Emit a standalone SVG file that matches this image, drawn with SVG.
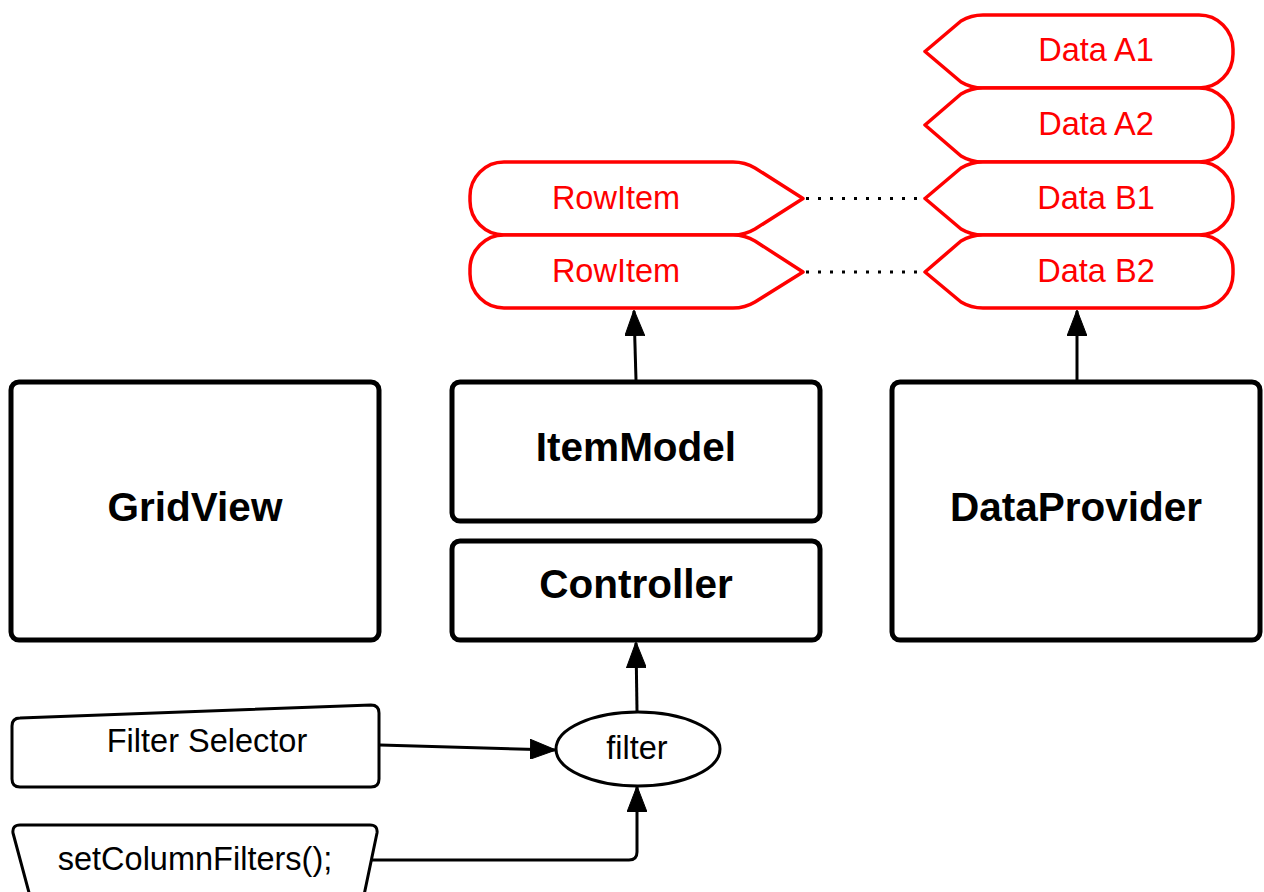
<svg xmlns="http://www.w3.org/2000/svg" width="1264" height="892" viewBox="0 0 1264 892">
<style>
.box{fill:#fff;stroke:#000;stroke-width:5}
.red{fill:#fff;stroke:#ff0000;stroke-width:3.5;stroke-linejoin:round}
.thin{fill:#fff;stroke:#000;stroke-width:3;stroke-linejoin:round}
.bt{font-family:"Liberation Sans",Arial,sans-serif;font-weight:bold;font-size:40.5px;fill:#000;text-anchor:middle}
.rt{font-family:"Liberation Sans",Arial,sans-serif;font-size:32.5px;fill:#ff0000;text-anchor:middle}
.nt{font-family:"Liberation Sans",Arial,sans-serif;font-size:32.5px;fill:#000;text-anchor:middle}
.conn{fill:none;stroke:#000;stroke-width:3}
.dot{fill:none;stroke:#000;stroke-width:3;stroke-dasharray:3 9}
</style>
<defs>
<marker id="arr" viewBox="0 0 26 20" refX="25" refY="10" markerWidth="26" markerHeight="20" markerUnits="userSpaceOnUse" orient="auto">
<path d="M0,0 L26,10 L0,20 Z" fill="#000" stroke="#000" stroke-width="1" stroke-linejoin="round"/>
</marker>
</defs>
<g id="connectors">
<path class="conn" d="M636,380 L634,311" marker-end="url(#arr)"/>
<path class="conn" d="M1077,380 L1077,311" marker-end="url(#arr)"/>
<path class="conn" d="M637,711 L636,643" marker-end="url(#arr)"/>
<path class="conn" d="M380,745 L555,750" marker-end="url(#arr)"/>
<path class="conn" d="M372,860 H629 Q637,860 637,852 V787" marker-end="url(#arr)"/>
<path class="dot" d="M806,198.5 H924"/>
<path class="dot" d="M806,272 H924"/>
</g>
<g id="gridview">
<rect class="box" x="11" y="382" width="368" height="258" rx="8"/>
<text class="bt" x="195" y="521">GridView</text>
</g>
<g id="itemmodel">
<rect class="box" x="452" y="382" width="368" height="139" rx="8"/>
<text class="bt" x="636" y="461">ItemModel</text>
</g>
<g id="controller">
<rect class="box" x="452" y="541" width="368" height="99" rx="8"/>
<text class="bt" x="636" y="598">Controller</text>
</g>
<g id="dataprovider">
<rect class="box" x="892" y="382" width="368" height="258" rx="8"/>
<text class="bt" x="1076" y="521">DataProvider</text>
</g>
<g id="rowitem1">
<path class="red" d="M504,162 H733 Q745,162 755,168 L803,198.5 L755,229 Q745,235 733,235 H504 A34,34 0 0 1 470,201 V196 A34,34 0 0 1 504,162 Z"/>
<text class="rt" x="616" y="209">RowItem</text>
</g>
<g id="rowitem2">
<path class="red" d="M504,235 H733 Q745,235 755,241 L803,272 L755,302 Q745,308 733,308 H504 A34,34 0 0 1 470,274 V269 A34,34 0 0 1 504,235 Z"/>
<text class="rt" x="616" y="282">RowItem</text>
</g>
<g id="dataA1">
<path class="red" d="M983,15 H1199 A34,34 0 0 1 1233,49 V54 A34,34 0 0 1 1199,88 H983 Q971,88 961,82 L925,51.5 L961,21 Q971,15 983,15 Z"/>
<text class="rt" x="1096" y="61">Data A1</text>
</g>
<g id="dataA2">
<path class="red" d="M983,88 H1199 A34,34 0 0 1 1233,122 V128 A34,34 0 0 1 1199,162 H983 Q971,162 961,156 L925,125 L961,94 Q971,88 983,88 Z"/>
<text class="rt" x="1096" y="135">Data A2</text>
</g>
<g id="dataB1">
<path class="red" d="M983,162 H1199 A34,34 0 0 1 1233,196 V201 A34,34 0 0 1 1199,235 H983 Q971,235 961,229 L925,198.5 L961,168 Q971,162 983,162 Z"/>
<text class="rt" x="1096" y="209">Data B1</text>
</g>
<g id="dataB2">
<path class="red" d="M983,235 H1199 A34,34 0 0 1 1233,269 V274 A34,34 0 0 1 1199,308 H983 Q971,308 961,302 L925,272 L961,241 Q971,235 983,235 Z"/>
<text class="rt" x="1096" y="282">Data B2</text>
</g>
<g id="filterselector">
<path class="thin" d="M20,718 L371,705 Q379,705 379,713 V779 Q379,787 371,787 H20 Q12,787 12,779 V726 Q12,718 20,718 Z"/>
<text class="nt" x="207" y="752">Filter Selector</text>
</g>
<g id="filter">
<ellipse class="thin" cx="638" cy="749" rx="82" ry="37"/>
<text class="nt" x="637" y="759">filter</text>
</g>
<g id="setcolumnfilters">
<path class="thin" d="M20,825 H370 Q378,825 377,833 L363,900 H31 L13,833 Q12,825 20,825 Z"/>
<text class="nt" x="195" y="870">setColumnFilters();</text>
</g>
</svg>
